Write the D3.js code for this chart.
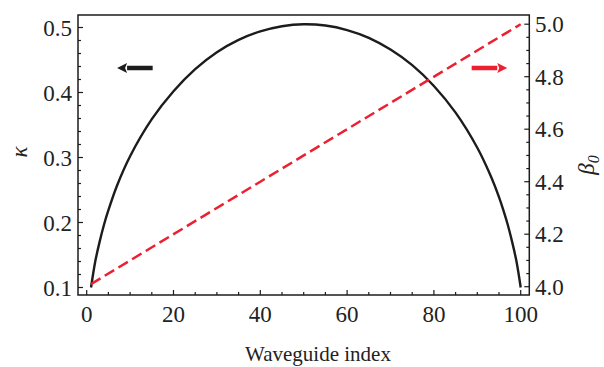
<!DOCTYPE html>
<html><head><meta charset="utf-8">
<script src="https://cdnjs.cloudflare.com/ajax/libs/d3/7.8.5/d3.min.js"></script>
<style>body{margin:0;background:#fff}svg{display:block}</style>
</head><body>
<script>
// Data
const kappaIndex = [1,2,3,4,5,7,10,15,20,25,30,35,40,45,50,55,60,65,70,75,80,85,90,93,95,96,97,98,99,100];
const kappaValues = [0.100,0.141,0.171,0.197,0.219,0.257,0.302,0.359,0.402,0.436,0.462,0.481,0.494,0.502,0.505,0.503,0.496,0.484,0.466,0.442,0.410,0.369,0.315,0.273,0.239,0.219,0.197,0.171,0.141,0.100];
const betaIndex = [1,100];
const betaValues = [4.01,5.00];
const xTicks = [0,20,40,60,80,100];
const kappaTicks = [0.1,0.2,0.3,0.4,0.5];
const betaTicks = [4.0,4.2,4.4,4.6,4.8,5.0];
const leftArrow = {y:0.4377, from:15.2, to:7.0};
const rightArrow = {y:0.4377, from:88.7, to:96.9};

const W=604,H=367;
const L=78,R=529.3,T=15,B=295;
const FONT="'Liberation Serif','Times New Roman',Times,serif";
const svg=d3.select("body").append("svg").attr("width",W).attr("height",H)
  .attr("font-family",FONT).style("font-family",FONT);
const x=d3.scaleLinear().domain([0,100]).range([86.7,520.7]);
const yk=d3.scaleLinear().domain([0.1,0.5]).range([287.5,27.5]);
const yb=d3.scaleLinear().domain([4.0,5.0]).range([286.7,24.2]);
const ink="#1c1c1c", red="#ec2030", txt="#222";

// ticks (inward)
const g=svg.append("g").attr("stroke",ink).attr("stroke-width",1.2);
d3.range(0,101,5).forEach(v=>{const len=v%20===0?5:3;
  g.append("line").attr("x1",x(v)).attr("x2",x(v)).attr("y1",B).attr("y2",B-len);});
d3.range(0,21).map(i=>+(0.1+i*0.02).toFixed(2)).filter(v=>v<=0.52).forEach(v=>{
  const major=Math.abs(v*10-Math.round(v*10))<1e-6;const len=major?5:3;
  g.append("line").attr("x1",L).attr("x2",L+len).attr("y1",yk(v)).attr("y2",yk(v));});
d3.range(0,21).map(i=>+(4+i*0.05).toFixed(2)).forEach(v=>{
  const major=Math.abs(v*5-Math.round(v*5))<1e-6;const len=major?5:3;
  g.append("line").attr("x1",R).attr("x2",R-len).attr("y1",yb(v)).attr("y2",yb(v));});

// frame
svg.append("rect").attr("x",L).attr("y",T).attr("width",R-L).attr("height",B-T)
  .attr("fill","none").attr("stroke",ink).attr("stroke-width",1.5);

// tick labels
svg.selectAll(".xt").data(xTicks).join("text").attr("fill",txt).attr("x",d=>x(d)).attr("y",322)
  .attr("text-anchor","middle").attr("font-size",23).text(d=>d);
svg.selectAll(".kt").data(kappaTicks).join("text").attr("fill",txt).attr("x",72).attr("y",d=>yk(d)).attr("dy","0.35em")
  .attr("text-anchor","end").attr("font-size",23).text(d=>d.toFixed(1));
svg.selectAll(".bt").data(betaTicks).join("text").attr("fill",txt).attr("x",535).attr("y",d=>yb(d)).attr("dy","0.35em")
  .attr("text-anchor","start").attr("font-size",23).text(d=>d.toFixed(1));

// axis titles
svg.append("text").attr("fill",txt).attr("x",318).attr("y",361).attr("text-anchor","middle").attr("font-size",21).text("Waveguide index");
svg.append("text").attr("fill",txt).attr("transform","translate(27,152) rotate(-90)").attr("text-anchor","middle")
  .attr("font-size",23).attr("font-style","italic").text("κ");
svg.append("text").attr("fill",txt).attr("transform","translate(594,165) rotate(-90)").attr("text-anchor","middle")
  .attr("font-size",23).attr("font-style","italic").html('β<tspan font-size="16" dy="5">0</tspan>');

// curves
const kData=kappaIndex.map((n,i)=>[n,kappaValues[i]]);
svg.append("path").datum(kData).attr("fill","none").attr("stroke",ink).attr("stroke-width",2.4)
  .attr("d",d3.line().x(d=>x(d[0])).y(d=>yk(d[1])).curve(d3.curveCatmullRom.alpha(0.5)));
const bData=betaIndex.map((n,i)=>[n,betaValues[i]]);
svg.append("path").datum(bData).attr("fill","none").attr("stroke",red).attr("stroke-width",2.5)
  .attr("stroke-dasharray","11,5")
  .attr("d",d3.line().x(d=>x(d[0])).y(d=>yb(d[1])));

// arrows
function arrow(a,color){
  const x0=x(a.from),x1=x(a.to),y=yk(a.y);const dir=Math.sign(x1-x0);
  const hb=x1-dir*10;
  svg.append("line").attr("x1",x0).attr("x2",hb).attr("y1",y).attr("y2",y).attr("stroke",color).attr("stroke-width",4.5);
  svg.append("path").attr("d",`M${x1},${y}L${hb},${y-5}L${hb+dir*2},${y}L${hb},${y+5}Z`).attr("fill",color);
}
arrow(leftArrow,ink);
arrow(rightArrow,red);
</script>
</body></html>
